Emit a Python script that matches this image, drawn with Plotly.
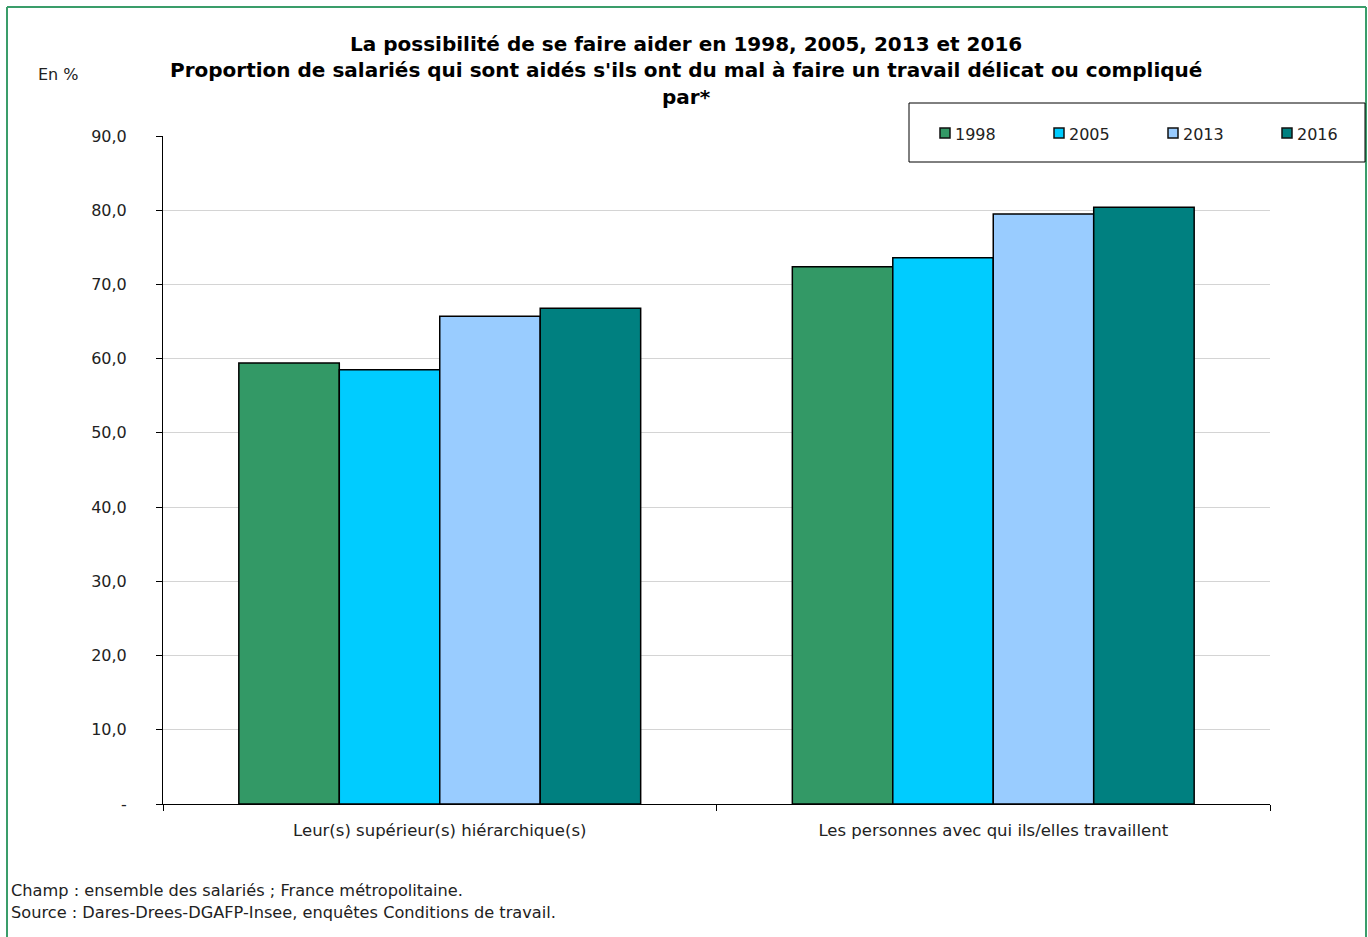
import plotly.graph_objects as go

categories = ["Leur(s) supérieur(s) hiérarchique(s)", "Les personnes avec qui ils/elles travaillent"]
years = ["1998", "2005", "2013", "2016"]
values_1998 = [59.4, 72.4]
values_2005 = [58.5, 73.6]
values_2013 = [65.7, 79.5]
values_2016 = [66.8, 80.4]
series_values = [values_1998, values_2005, values_2013, values_2016]
colors = ["#339966", "#00CCFF", "#99CCFF", "#008080"]
y_tickvals = [0, 10, 20, 30, 40, 50, 60, 70, 80, 90]
y_ticktext = ["-", "10,0", "20,0", "30,0", "40,0", "50,0", "60,0", "70,0", "80,0", "90,0"]

W, H = 1368, 937
L, R, T, B = 163, 1270, 136, 804
pw, ph = R - L, B - T


def px(x):
    return (x - L) / pw


def py(y):
    return (B - y) / ph


FONT = "DejaVu Sans"
TXT = "#222222"

fig = go.Figure()
for yr, vals, col in zip(years, series_values, colors):
    fig.add_trace(go.Bar(
        x=list(range(len(categories))), y=vals, name=yr, showlegend=False,
        marker=dict(color=col, line=dict(color="black", width=1.5)),
    ))

fig.update_layout(
    width=W, height=H,
    margin=dict(l=L, r=W - R, t=T, b=H - B, autoexpand=False),
    paper_bgcolor="white", plot_bgcolor="white",
    barmode="group", bargap=0.274, bargroupgap=0,
    font=dict(family=FONT, size=16, color=TXT),
    showlegend=False,
    xaxis=dict(
        range=[-0.5, 1.5], tickmode="array", tickvals=[0, 1], ticktext=categories,
        ticks="", showgrid=False, showline=True, linecolor="black", linewidth=1,
        zeroline=False, ticklabelstandoff=11,
        minor=dict(tickmode="array", tickvals=[-0.5, 0.5, 1.5], ticks="outside",
                   ticklen=6, tickcolor="black", tickwidth=1, showgrid=False),
        tickfont=dict(family=FONT, size=16.5, color=TXT),
    ),
    yaxis=dict(
        range=[0, 90], tickmode="array", tickvals=y_tickvals, ticktext=y_ticktext,
        ticks="outside", ticklen=6, tickcolor="black", showline=True, linecolor="black",
        linewidth=1, showgrid=True, gridcolor="#d4d4d4", gridwidth=1, zeroline=False,
        ticklabelstandoff=26, tickfont=dict(family=FONT, size=16, color=TXT),
    ),
)

GREEN = "#3a9d6a"
shapes = [
    # outer green frame
    dict(type="line", xref="paper", yref="paper", x0=px(7), x1=px(7), y0=py(7), y1=py(945),
         line=dict(color=GREEN, width=2)),
    dict(type="line", xref="paper", yref="paper", x0=px(7), x1=px(1366), y0=py(7), y1=py(7),
         line=dict(color=GREEN, width=2)),
    dict(type="line", xref="paper", yref="paper", x0=px(1366), x1=px(1366), y0=py(7), y1=py(945),
         line=dict(color=GREEN, width=2)),
    # legend box
    dict(type="rect", xref="paper", yref="paper", x0=px(909), x1=px(1365), y0=py(103), y1=py(162),
         line=dict(color="black", width=1), fillcolor="white", layer="above"),
]

# legend entries (symbol + label), built from the series names and colours
leg_x0 = 940
leg_step = 114
for i, (yr, col) in enumerate(zip(years, colors)):
    sx = leg_x0 + i * leg_step
    shapes.append(dict(type="rect", xref="paper", yref="paper",
                       x0=px(sx), x1=px(sx + 10), y0=py(128), y1=py(138),
                       line=dict(color="#111111", width=1.5), fillcolor=col, layer="above"))
    fig.add_annotation(text=yr, xref="paper", yref="paper", x=px(sx + 13), y=py(134),
                       xanchor="left", yanchor="middle", showarrow=False,
                       font=dict(family=FONT, size=16, color=TXT))
fig.update_layout(shapes=shapes)

title_lines = [
    ("La possibilité de se faire aider en 1998, 2005, 2013 et 2016", 44),
    ("Proportion de salariés qui sont aidés s'ils ont du mal à faire un travail délicat ou compliqué", 70),
    ("par*", 97),
]
for txt, yy in title_lines:
    fig.add_annotation(text="<b>" + txt + "</b>", xref="paper", yref="paper",
                       x=px(686), y=py(yy), xanchor="center", yanchor="middle", showarrow=False,
                       font=dict(family=FONT, size=20, color="black"))

fig.add_annotation(text="En %", xref="paper", yref="paper", x=px(58), y=py(74),
                   xanchor="center", yanchor="middle", showarrow=False,
                   font=dict(family=FONT, size=16, color=TXT))
fig.add_annotation(text="Champ : ensemble des salariés ; France métropolitaine.", xref="paper", yref="paper",
                   x=px(9), y=py(890), xanchor="left", yanchor="middle", showarrow=False,
                   font=dict(family=FONT, size=16.2, color=TXT))
fig.add_annotation(text="Source : Dares-Drees-DGAFP-Insee, enquêtes Conditions de travail.", xref="paper", yref="paper",
                   x=px(9), y=py(912), xanchor="left", yanchor="middle", showarrow=False,
                   font=dict(family=FONT, size=16.2, color=TXT))

fig.write_html("out.html", config={"displayModeBar": False},
               post_script="document.body.style.margin='0';document.body.style.overflow='hidden';")
